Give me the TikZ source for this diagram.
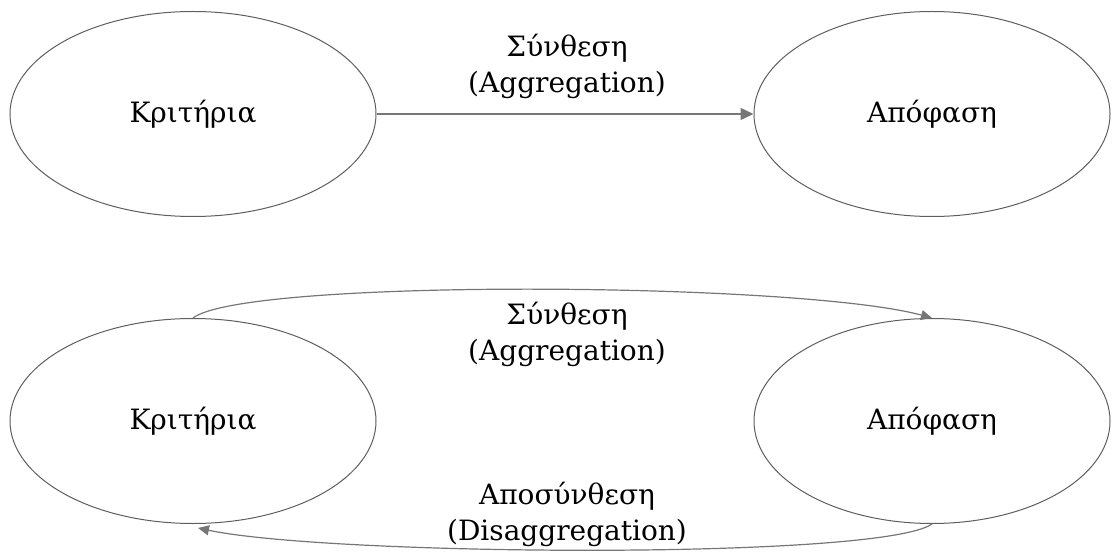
\documentclass[tikz,border=0pt]{standalone}
\usepackage{fontspec}
\setmainfont{DejaVu Serif}
\usetikzlibrary{shapes.geometric,arrows.meta,calc}
\definecolor{rimgray}{HTML}{5E5E5E}
\definecolor{linkgray}{HTML}{767676}
\begin{document}
\begin{tikzpicture}[x=1pt,y=-1pt,
  oval/.style={ellipse,draw=rimgray,line width=1pt,inner sep=0pt,
    minimum width=366pt,minimum height=205pt,font=\fontsize{28}{34}\selectfont},
  link/.style={draw=linkgray,line width=1.4pt,
    -{Triangle[length=13pt,width=12pt]}},
  curvelink/.style={draw=linkgray,line width=1.2pt,
    -{Triangle[length=11pt,width=10pt]}},
  caption/.style={align=center,inner sep=0pt,font=\fontsize{28}{36}\selectfont}]
  \useasboundingbox (0,0) rectangle (1113,553);

  % upper pair: one-way aggregation
  \node[oval] (crit1) at (193,114) {Κριτήρια};
  \node[oval,minimum width=356pt] (dec1) at (932,114) {Απόφαση};
  \draw[link] (crit1.east) -- (dec1.west);
  \node[caption] (agg1) at (567,66) {Σύνθεση\\(Aggregation)};

  % lower pair: aggregation and disaggregation loop
  \node[oval] (crit2) at (193,421) {Κριτήρια};
  \node[oval,minimum width=356pt] (dec2) at (932,421) {Απόφαση};
  \coordinate (backtip) at ($(crit2.south)+(5,4)$);
  \draw[curvelink] (crit2.north) .. controls (245,278) and (800,282) .. (dec2.north);
  \draw[curvelink] (dec2.south) .. controls (880,560) and (330,556) .. (backtip);
  \node[caption] (agg2) at (567,334) {Σύνθεση\\(Aggregation)};
  \node[caption] (dis2) at (567,514) {Αποσύνθεση\\(Disaggregation)};
\end{tikzpicture}
\end{document}
